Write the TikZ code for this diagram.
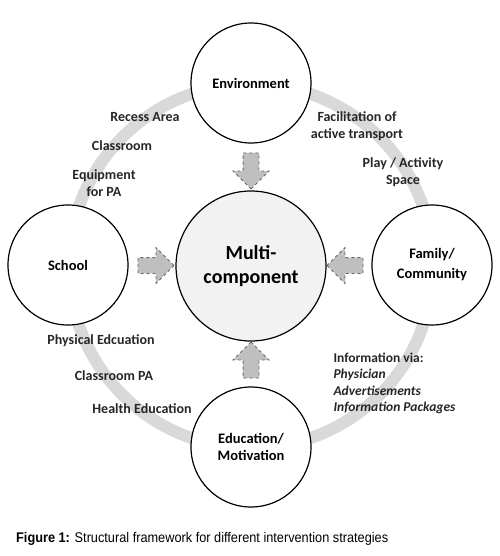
\documentclass[tikz,border=0pt]{standalone}
\usepackage{fontspec}
\setmainfont{Carlito}
\newfontfamily\capfont[FakeStretch=0.91]{Liberation Sans}
\usetikzlibrary{shapes.arrows,calc}
\definecolor{ringgray}{HTML}{D9D9D9}
\definecolor{arrowgray}{HTML}{BFBFBF}
\definecolor{centergray}{HTML}{F2F2F2}
\tikzset{
  outer/.style={circle, draw, line width=1.2pt, fill=white, minimum size=120pt,
    inner sep=0pt, align=center, font=\fontsize{14.5}{17}\selectfont\bfseries},
  lbl/.style={align=center, text=black!85, font=\fontsize{14}{17.5}\selectfont\bfseries},
  blockarrow/.style={single arrow, draw=black!60, dashed, line width=0.8pt,
    fill=arrowgray, inner sep=7.5pt, minimum height=36pt,
    single arrow head extend=10pt, single arrow head indent=0pt}
}
\begin{document}
\begin{tikzpicture}[x=1pt,y=-1pt]
  \useasboundingbox (0,0) rectangle (499,556);

  % centre and ring
  \node[circle, draw, line width=1.2pt, fill=centergray, minimum size=150pt, inner sep=0pt,
    align=center, font=\fontsize{20}{23.5}\selectfont\bfseries] (multi) at (251,266) {Multi-\\component};
  \draw[ringgray, line width=12pt] (multi.center) circle[radius=182pt];

  % strategy circles
  \node[outer] (env) at (251,83) {Environment};
  \node[outer] (school) at (68,265) {School};
  \node[outer] (family) at (432,265) {Family/\\[3pt]Community};
  \node[outer] (edu) at (251,447) {Education/\\Motivation};

  % block arrows
  \node[blockarrow, shape border rotate=270] (aenv) at ($(env.south)!0.5!(multi.north)$) {};
  \node[blockarrow, shape border rotate=0] (aschool) at ($(school.east)!0.5!(multi.west)$) {};
  \node[blockarrow, shape border rotate=180] (afamily) at ($(family.west)!0.5!(multi.east)$) {};
  \node[blockarrow, shape border rotate=90] (aedu) at ($(edu.north)!0.5!(multi.south)$) {};

  % labels on the ring
  \node[lbl] (recess) at (145,117) {Recess Area};
  \node[lbl] (classroom) at (122,146) {Classroom};
  \node[lbl] (equip) at (104,183) {Equipment\\for PA};
  \node[lbl] (transport) at (357,126) {Facilitation of\\active transport};
  \node[lbl] (play) at (403,172) {Play / Activity\\Space};
  \node[lbl] (physed) at (101,341) {Physical Edcuation};
  \node[lbl] (classpa) at (114,376) {Classroom PA};
  \node[lbl] (health) at (142,409) {Health Education};
  \node[lbl, align=left, anchor=north west, font=\fontsize{13.5}{16.5}\selectfont\bfseries]
    (info) at (330,349) {Information via:\\\textit{Physician}\\\textit{Advertisements}\\\textit{Information Packages}};

  % caption
  \node[anchor=base west, inner sep=0pt, font=\capfont\fontsize{14}{16}\selectfont] (caption) at (16,542)
    {\textbf{Figure 1:} Structural framework for different intervention strategies};
\end{tikzpicture}
\end{document}
